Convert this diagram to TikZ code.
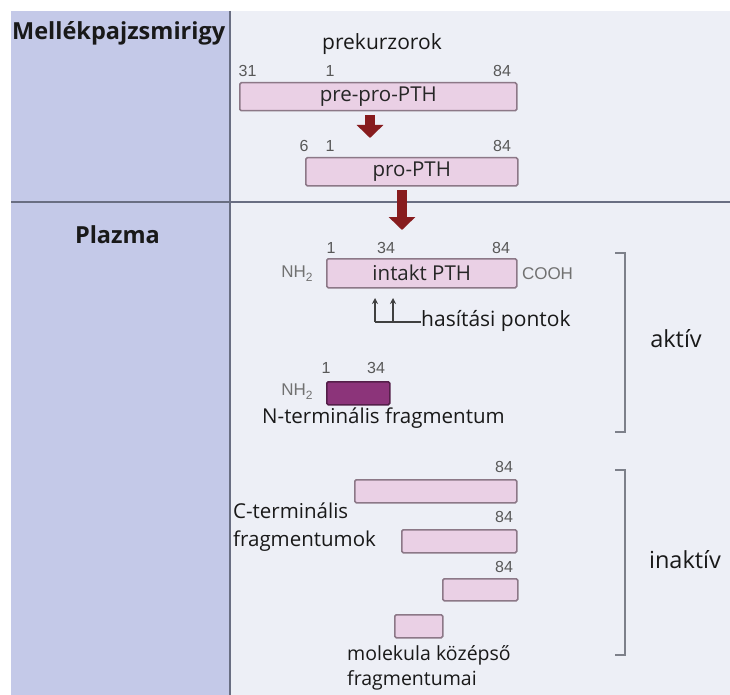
\documentclass[tikz,border=0pt]{standalone}
\usepackage{fontspec}
\setmainfont{Open Sans}
\newfontfamily\numfont{Liberation Sans}
\usetikzlibrary{arrows.meta}

\definecolor{sidebg}{RGB}{196,201,232}
\definecolor{mainbg}{RGB}{237,239,246}
\definecolor{divider}{RGB}{105,110,130}
\definecolor{boxfill}{RGB}{234,208,229}
\definecolor{boxline}{RGB}{140,120,135}
\definecolor{fragdark}{RGB}{140,52,122}
\definecolor{arrowred}{RGB}{135,28,30}
\definecolor{numgray}{RGB}{88,88,88}
\definecolor{brackgray}{RGB}{125,128,138}

\tikzset{
  pbox/.style={draw=boxline, fill=boxfill, line width=1.5pt, rounded corners=1.5pt,
    inner sep=0pt, anchor=north west, font=\fontsize{20.5}{24}\selectfont, text=black!85},
  darkbox/.style={pbox, fill=fragdark, draw=fragdark!60!black},
  numlbl/.style={font=\numfont\fontsize{16}{18}\selectfont, text=numgray, inner sep=0pt},
  endlbl/.style={font=\numfont\fontsize{17}{19}\selectfont, text=numgray!85, inner sep=0pt},
  lbl/.style={font=\fontsize{21}{24}\selectfont, inner sep=0pt, text=black!90},
  sidelbl/.style={font=\bfseries\fontsize{23.5}{26}\selectfont, inner sep=0pt, text=black!90},
  statelbl/.style={font=\fontsize{23.5}{26}\selectfont, inner sep=0pt, text=black!90},
  bigarrow/.style={draw=arrowred, line width=10pt, -{Triangle[width=26pt,length=13pt]}, arrowred},
  cutline/.style={draw=black!75, line width=1.3pt},
  cutarrow/.style={cutline, -{Stealth[width=6pt,length=6pt]}},
  bracket/.style={draw=brackgray, line width=1.6pt},
}

\begin{document}
\begin{tikzpicture}[x=1pt,y=-1pt]
\useasboundingbox (0,0) rectangle (730,695);

% panels and dividers
\fill[white] (0,0) rectangle (730,695);
\fill[sidebg] (11,11) rectangle (230,695);
\fill[mainbg] (230,11) rectangle (730,695);
\draw[divider, line width=2pt] (11,202) -- (730,202);
\draw[divider, line width=2pt] (230,11) -- (230,695);

% compartment labels
\node[sidelbl, anchor=base west] (gland) at (12,40) {Mellékpajzsmirigy};
\node[sidelbl, anchor=base] (plasma) at (117.5,243) {Plazma};

% precursors
\node[lbl, anchor=base] (prek) at (382,50) {prekurzorok};
\node[numlbl] (n31) at (247.5,71) {31};
\node[numlbl] (n1a) at (330,71) {1};
\node[numlbl] (n84a) at (502,71) {84};
\node[pbox, minimum width=277pt, minimum height=28pt] (prepro) at (239,82) {pre-pro-PTH};

\node[numlbl] (n6) at (304,146) {6};
\node[numlbl] (n1b) at (330,146) {1};
\node[numlbl] (n84b) at (502,146) {84};
\node[pbox, minimum width=212pt, minimum height=28pt] (pro) at (305,157) {pro-PTH};

\coordinate (a1s) at (370,115);
\coordinate (a1e) at (370,138);
\draw[bigarrow] (a1s) -- (a1e);
\coordinate (a2s) at (402,190);
\coordinate (a2e) at (402,230);
\draw[bigarrow] (a2s) -- (a2e);

% intact hormone
\node[numlbl] (n1c) at (331,248) {1};
\node[numlbl] (n34a) at (386,248) {34};
\node[numlbl] (n84c) at (501,248) {84};
\node[pbox, minimum width=190pt, minimum height=29pt] (intakt) at (326,258) {intakt PTH};
\node[endlbl] (nh2a) at (297,274) {NH\raisebox{-4pt}{\fontsize{12}{13}\selectfont 2}};
\node[endlbl] (cooh) at (547.5,274) {COOH};

% cleavage sites
\node[lbl, anchor=base west] (hasit) at (421,326) {hasítási pontok};
\coordinate (cutA) at (375,322);
\coordinate (cutAtop) at (375,298);
\coordinate (cutB) at (393,322);
\coordinate (cutBtop) at (393,298);
\draw[cutline] (cutA) -- (cutA -| hasit.west);
\draw[cutarrow] (cutA) -- (cutAtop);
\draw[cutarrow] (cutB) -- (cutBtop);

% N-terminal fragment
\node[numlbl] (n1d) at (326,368) {1};
\node[numlbl] (n34b) at (376,368) {34};
\node[darkbox, minimum width=63pt, minimum height=23pt] (nterm) at (326,381) {};
\node[endlbl] (nh2b) at (297,392) {NH\raisebox{-4pt}{\fontsize{12}{13}\selectfont 2}};
\node[lbl, anchor=base west, font=\fontsize{20.5}{24}\selectfont] (ntermlbl) at (262,423) {N-terminális fragmentum};

% C-terminal and mid-molecule fragments
\node[numlbl] (n84d) at (504,467) {84};
\node[pbox, minimum width=162pt, minimum height=23pt] (c1) at (354,479) {};
\node[numlbl] (n84e) at (504,517) {84};
\node[pbox, minimum width=115pt, minimum height=23pt] (c2) at (401,529) {};
\node[numlbl] (n84f) at (504,567) {84};
\node[pbox, minimum width=75pt, minimum height=22pt] (c3) at (442,578) {};
\node[pbox, minimum width=48pt, minimum height=23pt] (mid) at (394,614) {};

\node[lbl, anchor=base west, font=\fontsize{20.5}{24}\selectfont] (cterm1) at (233,518) {C-terminális};
\node[lbl, anchor=base west, font=\fontsize{20.5}{24}\selectfont] (cterm2) at (233,546.5) {fragmentumok};
\node[lbl, anchor=base west, font=\fontsize{19.5}{24}\selectfont] (mid1) at (347,660) {molekula középső};
\node[lbl, anchor=base west, font=\fontsize{19.5}{24}\selectfont] (mid2) at (347,685) {fragmentumai};

% activity brackets
\draw[bracket] (615,253) -- (625,253) -- (625,432) -- (615,432);
\draw[bracket] (615,470) -- (625,470) -- (625,655) -- (615,655);
\node[statelbl, anchor=base] (aktiv) at (676,347) {aktív};
\node[statelbl, anchor=base] (inaktiv) at (685,568) {inaktív};
\end{tikzpicture}
\end{document}
